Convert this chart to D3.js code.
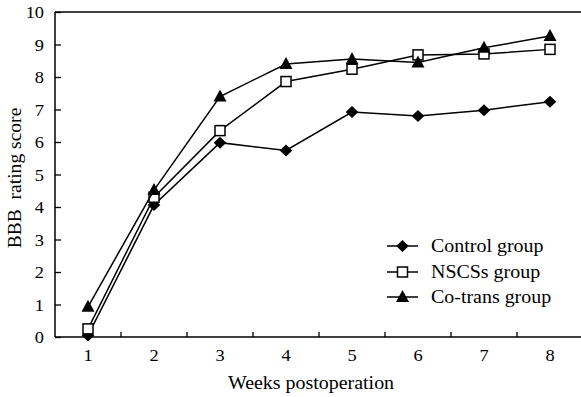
<!DOCTYPE html>
<html><head><meta charset="utf-8">
<script src="https://cdn.jsdelivr.net/npm/d3@7"></script>
<style>body{margin:0;background:#fff}svg{display:block}text{font-family:"Liberation Serif","Times New Roman",serif;fill:#000}</style>
</head><body>
<script>
const weeks = ["1","2","3","4","5","6","7","8"];
const yTicks = [0,1,2,3,4,5,6,7,8,9,10];
const controlGroup = [0.05, 4.06, 5.98, 5.74, 6.92, 6.8, 6.98, 7.24];
const nscsGroup    = [0.25, 4.3, 6.35, 7.86, 8.24, 8.68, 8.71, 8.85];
const cotransGroup = [0.93, 4.52, 7.4, 8.4, 8.55, 8.45, 8.9, 9.26];
const seriesNames = ["Control group", "NSCSs group", "Co-trans group"];
const seriesShapes = ["diamond", "square", "triangle"];

const W = 581, H = 397;
const svg = d3.select("body").append("svg").attr("width", W).attr("height", H);
const pLeft = 55, pRight = 583, pTop = 12, pBottom = 337;
const x = d3.scaleBand().domain(weeks).range([pLeft, pRight]);
const y = d3.scaleLinear().domain([0, 10]).range([pBottom, pTop]);
const SX = 1.05;

// frame lines
svg.append("line").attr("x1", pLeft).attr("x2", W).attr("y1", pTop).attr("y2", pTop).attr("stroke", "#000").attr("stroke-width", 1.5);
svg.append("line").attr("x1", pLeft).attr("x2", W).attr("y1", pBottom).attr("y2", pBottom).attr("stroke", "#000").attr("stroke-width", 1.5);
svg.append("line").attr("x1", pLeft).attr("x2", pLeft).attr("y1", pTop).attr("y2", pBottom).attr("stroke", "#000").attr("stroke-width", 1.5);

// y axis
const yAxis = d3.axisRight(y).tickValues(yTicks).tickSize(6).tickFormat("");
const gy = svg.append("g").attr("transform", `translate(${pLeft},0)`).call(yAxis);
gy.select(".domain").remove();
gy.selectAll("line").attr("stroke", "#000").attr("stroke-width", 1.3);
yTicks.forEach(v => {
  svg.append("text").attr("transform", `translate(44,${y(v)+6}) scale(${SX},1)`)
    .attr("text-anchor", "end").attr("font-size", 17.5).text(v);
});

// x axis ticks at band boundaries
const bounds = weeks.slice(1).map(w => x(w));
svg.selectAll(".xt").data(bounds).enter().append("line")
  .attr("x1", d => d).attr("x2", d => d).attr("y1", pBottom).attr("y2", pBottom - 5)
  .attr("stroke", "#000").attr("stroke-width", 1.3);
weeks.forEach(w => {
  svg.append("text").attr("transform", `translate(${x(w)+x.bandwidth()/2},361) scale(${SX},1)`)
    .attr("text-anchor", "middle").attr("font-size", 17.5).text(w);
});

// axis labels
svg.append("text").attr("transform", `translate(311,389) scale(${SX},1)`)
  .attr("text-anchor", "middle").attr("font-size", 19).text("Weeks postoperation");
svg.append("text").attr("transform", `translate(21,178) rotate(-90) scale(1.03,1)`)
  .attr("text-anchor", "middle").attr("font-size", 19).attr("xml:space", "preserve").text("BBB  rating score");

function marker(g, shape, cx, cy) {
  if (shape === "diamond") {
    g.append("path").attr("d", `M${cx},${cy-6}L${cx+6.3},${cy}L${cx},${cy+6}L${cx-6.3},${cy}Z`).attr("fill", "#000");
  } else if (shape === "square") {
    g.append("rect").attr("x", cx-5).attr("y", cy-5).attr("width", 10).attr("height", 10)
      .attr("fill", "#fff").attr("stroke", "#000").attr("stroke-width", 1.5);
  } else {
    g.append("path").attr("d", `M${cx},${cy-7}L${cx+6.5},${cy+5}L${cx-6.5},${cy+5}Z`).attr("fill", "#000");
  }
}

const allSeries = [controlGroup, nscsGroup, cotransGroup];
const line = d3.line().x((d,i) => x(weeks[i]) + x.bandwidth()/2).y(d => y(d));
allSeries.forEach((vals, si) => {
  const g = svg.append("g");
  g.append("path").attr("d", line(vals)).attr("fill", "none").attr("stroke", "#000").attr("stroke-width", 1.5);
  vals.forEach((v, i) => marker(g, seriesShapes[si], x(weeks[i]) + x.bandwidth()/2, y(v)));
});

// legend
const legY = [246, 272, 297];
seriesNames.forEach((n, i) => {
  const g = svg.append("g");
  g.append("line").attr("x1", 387).attr("x2", 418).attr("y1", legY[i]).attr("y2", legY[i]).attr("stroke", "#000").attr("stroke-width", 1.5);
  marker(g, seriesShapes[i], 402.5, legY[i]);
  g.append("text").attr("transform", `translate(431,${legY[i]+6}) scale(${SX},1)`).attr("font-size", 19).text(n);
});
</script>
</body></html>
